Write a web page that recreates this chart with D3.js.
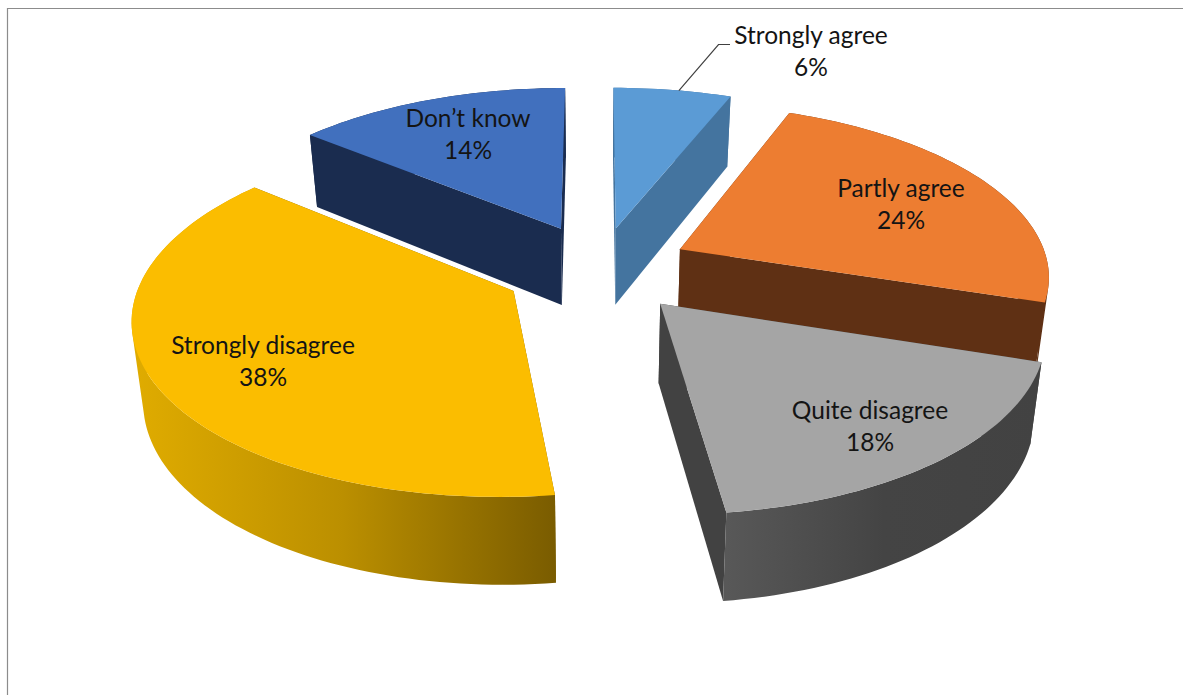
<!DOCTYPE html>
<html>
<head>
<meta charset="utf-8">
<script src="https://cdn.jsdelivr.net/npm/d3@7"></script>
<style>
  html, body { margin: 0; padding: 0; background: #fff; }
  svg { display: block; }
  text { font-family: Lato, "Open Sans", sans-serif; font-size: 24.5px; fill: #141414; text-anchor: middle; }
</style>
</head>
<body>
<svg id="chart" width="1183" height="695"></svg>
<script>
// Survey answers, in clockwise order from twelve o'clock
const categories = ["Strongly agree", "Partly agree", "Quite disagree", "Strongly disagree", "Don\u2019t know"];
const shares = [6, 24, 18, 38, 14];
const topColors = ["#5b9bd5", "#ed7d31", "#a5a5a5", "#fbbd00", "#4170be"];
const wallFrom = ["#44749f", "#5f3014", "#585858", "#e0ac00", "#1a2c4f"];
const wallMid = ["#44749f", "#5f3014", "#444444", "#bb8f00", "#1a2c4f"];
const wallTo = ["#44749f", "#5f3014", "#424242", "#7a5c00", "#1a2c4f"];
const labelCenters = [[811, 44], [901, 197], [870, 419], [263, 354], [468, 127]];

// How far each slice is pulled out of the disc, sideways and in depth
const explodeX = [0.295, 0.255, 0.265, 0.25, 0.23];
const explodeZ = [0.255, 0.29, 0.25, 0.25, 0.275];

// Perspective camera over the tilted disc
const cx = 596, cy = 270, radiusX = 370, radiusY = 171, perspective = 0.139;
const thickness = 78, bottomShrink = 0.975;

const svg = d3.select("#chart");
const defs = svg.append("defs");

// Chart frame: only the top and left edges show
svg.append("path").attr("d", "M7.5,695V8.5H1183").attr("fill", "none").attr("stroke", "#8c8c8c").attr("stroke-width", 1.2);

const slices = d3.pie().sort(null).startAngle(0).endAngle(2 * Math.PI)(shares)
  .map((d, i) => ({ ...d, i, mid: (d.startAngle + d.endAngle) / 2 }));

function groundPoint(slice, angle, r) {
  return [explodeX[slice.i] * Math.sin(slice.mid) + r * Math.sin(angle),
          explodeZ[slice.i] * Math.cos(slice.mid) + r * Math.cos(angle)];
}
function topPoint(g) {
  const s = 1 / (1 + perspective * g[1]);
  return [cx + radiusX * g[0] * s, cy - radiusY * g[1] * s];
}
function bottomPoint(g) {
  const s = 1 / (1 + perspective * g[1]);
  const p = topPoint(g);
  return [cx + (p[0] - cx) * bottomShrink, p[1] + thickness * Math.pow(s, 0.7)];
}
const line = d3.line();
const closed = pts => line(pts) + "Z";
// Same winding for every quad, so overlapping ones never cancel under nonzero fill
const wound = pts => (d3.polygonArea(pts) < 0 ? pts.slice().reverse() : pts);

function arcAngles(slice) {
  const n = Math.max(8, Math.ceil((slice.endAngle - slice.startAngle) * 40));
  return d3.range(n + 1).map(k => slice.startAngle + (slice.endAngle - slice.startAngle) * k / n);
}

// Paint from the far side of the disc to the near side
const order = slices.slice().sort((a, b) => Math.cos(b.mid) - Math.cos(a.mid));

order.forEach(slice => {
  const angles = arcAngles(slice);
  const apex = groundPoint(slice, 0, 0);
  const rim = angles.map(a => groundPoint(slice, a, 1));
  const g = svg.append("g").attr("class", "slice");

  const xs = rim.map(p => topPoint(p)[0]);
  const gradId = "wall" + slice.i;
  const grad = defs.append("linearGradient").attr("id", gradId)
    .attr("gradientUnits", "userSpaceOnUse")
    .attr("x1", d3.min(xs)).attr("x2", d3.max(xs)).attr("y1", 0).attr("y2", 0);
  grad.append("stop").attr("offset", 0).attr("stop-color", wallFrom[slice.i]);
  grad.append("stop").attr("offset", 0.5).attr("stop-color", wallMid[slice.i]);
  grad.append("stop").attr("offset", 1).attr("stop-color", wallTo[slice.i]);

  // Cut faces along both radii
  [rim[0], rim[rim.length - 1]].forEach(edge => {
    g.append("path")
      .attr("d", closed([topPoint(apex), topPoint(edge), bottomPoint(edge), bottomPoint(apex)]))
      .attr("fill", wallTo[slice.i]);
  });
  // Curved outer face, one quad per rim step
  const wallQuads = d3.pairs(rim).map(([a, b]) =>
    closed(wound([topPoint(a), topPoint(b), bottomPoint(b), bottomPoint(a)])));
  g.append("path")
    .attr("d", wallQuads.join(""))
    .attr("fill", `url(#${gradId})`);
  // Top face
  g.append("path")
    .attr("d", closed([topPoint(apex)].concat(rim.map(topPoint))))
    .attr("fill", topColors[slice.i]);
});

// Leader for the label that sits outside its slice
const leaderAnchor = topPoint(groundPoint(slices[0], slices[0].mid + 0.02, 1));
svg.append("path")
  .attr("d", line([leaderAnchor, [718.5, 44.5], [730, 44.5]]))
  .attr("fill", "none").attr("stroke", "#404040").attr("stroke-width", 1.2);

// Data labels: name on the first line, share on the second
const labels = svg.append("g").selectAll("text").data(slices).join("text")
  .attr("transform", d => `translate(${labelCenters[d.i][0]},${labelCenters[d.i][1]})`);
labels.append("tspan").attr("x", 0).attr("y", 0).text(d => categories[d.i]);
labels.append("tspan").attr("x", 0).attr("y", 32).text(d => d.value + "%");
</script>
</body>
</html>
